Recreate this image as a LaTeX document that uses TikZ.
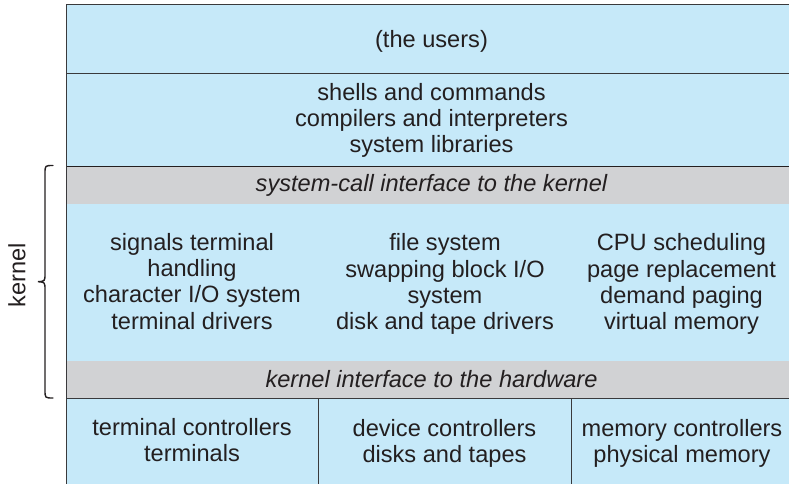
\documentclass[tikz,border=0pt]{standalone}
\usepackage{fontspec}
\setmainfont{Liberation Sans}
\definecolor{cellblue}{HTML}{C6E9F9}
\definecolor{cellgray}{HTML}{D1D2D4}
\definecolor{ink}{HTML}{231F20}
\definecolor{rule}{HTML}{3A3A3C}
\begin{document}
\begin{tikzpicture}[x=1pt,y=-1pt,
  cell/.style={rectangle,inner sep=0pt,outer sep=0pt,draw=none,anchor=north west},
  txt/.style={inner sep=0pt,align=center,text=ink,font=\fontsize{23.6}{26.1}\selectfont},
  itxt/.style={txt,font=\fontsize{23.6}{26.1}\selectfont\itshape},
  rulel/.style={draw=rule,line width=1pt},
  brace/.style={draw=ink,line width=1.4pt,line cap=round}]
\useasboundingbox (0,0) rectangle (789,483);
\clip (0,0) rectangle (789,483);
% cells
\node[cell,fill=cellblue,minimum width=731pt,minimum height=69pt] (users) at (66,4) {};
\node[cell,fill=cellblue,minimum width=731pt,minimum height=93.5pt] (shells) at (66,73) {};
\node[cell,fill=cellgray,minimum width=731pt,minimum height=37pt] (sys) at (66,166.5) {};
\node[cell,fill=cellblue,minimum width=731pt,minimum height=157pt] (kern) at (66,203.5) {};
\node[cell,fill=cellgray,minimum width=731pt,minimum height=38pt] (hw) at (66,360.5) {};
\node[cell,fill=cellblue,minimum width=731pt,minimum height=90pt] (bot) at (66,398.5) {};
% dividers and rules
\coordinate (d1t) at (318.5,398.5);
\coordinate (d1b) at (318.5,489);
\coordinate (d2t) at (571.5,398.5);
\coordinate (d2b) at (571.5,489);
\draw[rulel] (users.north west) -- (users.north east);
\draw[rulel] (users.south west) -- (users.south east);
\draw[rulel,line width=1.6pt,draw=ink] (sys.north west) -- (sys.north east);
\draw[rulel] (bot.north west) -- (bot.north east);
\draw[rulel] (users.north west) -- (bot.south west);
\draw[rulel] (d1t) -- (d1b);
\draw[rulel] (d2t) -- (d2b);
% texts
\node[txt] (tusers) at (431.5,41.5) {(the users)};
\node[txt] (tshells) at (431.5,120.5) {shells and commands\\compilers and interpreters\\system libraries};
\node[itxt] (tsys) at (431.5,185.5) {system-call interface to the kernel};
\node[txt] (tk1) at (192,281.5) {signals terminal\\handling\\character I/O system\\terminal drivers};
\node[txt] (tk2) at (445,284) {file system\\swapping block I/O\\system\\disk and tape drivers};
\node[txt] (tk3) at (681.5,284) {CPU scheduling\\page replacement\\demand paging\\virtual memory};
\node[itxt] (thw) at (431.5,379) {kernel interface to the hardware};
\node[txt] (tb1) at (192,440.5) {terminal controllers\\terminals};
\node[txt] (tb2) at (444.5,443) {device controllers\\disks and tapes};
\node[txt] (tb3) at (682,443) {memory controllers\\physical memory};
% brace
\coordinate (bt) at (53,165.5);
\coordinate (bb) at (53,398);
\coordinate (bm) at (38,281.7);
\draw[brace] (bt) .. controls (45,165.5) .. (45,173.5) -- (45,273.5) .. controls (45,281.2) .. (bm) .. controls (45,282.2) .. (45,290) -- (45,390) .. controls (45,398) .. (bb);
\node[txt,rotate=90] (kl) at (17,275) {kernel};
\end{tikzpicture}
\end{document}
